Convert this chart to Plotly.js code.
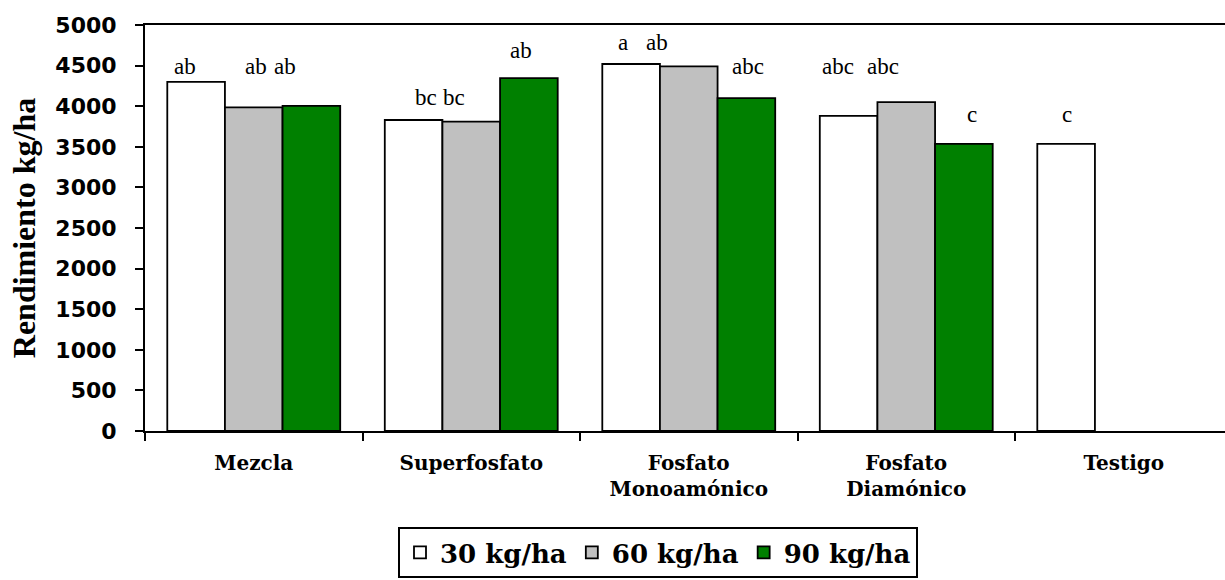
<!DOCTYPE html>
<html>
<head>
<meta charset="utf-8">
<script src="https://cdn.plot.ly/plotly-3.0.1.min.js"></script>
<style>html,body{margin:0;padding:0;background:#fff;}#chart{width:1225px;height:580px;}</style>
</head>
<body>
<div id="chart"></div>
<script>
var categories = ["Mezcla", "Superfosfato", "Fosfato<br>Monoamónico", "Fosfato<br>Diamónico", "Testigo"];
var seriesNames = ["30 kg/ha", "60 kg/ha", "90 kg/ha"];
var dose30 = [4300, 3830, 4520, 3880, 3535];
var dose60 = [3985, 3810, 4490, 4050, null];
var dose90 = [4005, 4345, 4100, 3535, null];
var letters30 = ["ab", "bc", "a", "abc", "c"];
var letters60 = ["ab", "bc", "ab", "abc", null];
var letters90 = ["ab", "ab", "abc", "c", null];
var yTicks = [0, 500, 1000, 1500, 2000, 2500, 3000, 3500, 4000, 4500, 5000];

var colors = ["#FFFFFF", "#C0C0C0", "#008000"];
var values = [dose30, dose60, dose90];
var traces = values.map(function (v, i) {
  return {
    type: "bar",
    name: seriesNames[i],
    x: categories,
    y: v,
    marker: {color: colors[i], line: {color: "#000000", width: 1.8}},
    hoverinfo: "x+y+name"
  };
});

// label placement (layout only): [x offset in category units, y in data units] per series/category
var labelPos = [
  [[-0.318, 4486], [-0.208, 4113], [-0.302, 4782], [-0.316, 4486], [-0.261, 3892]],
  [[0.010, 4486], [-0.079, 4113], [-0.144, 4782], [-0.107, 4486], null],
  [[0.144, 4486], [0.229, 4692], [0.272, 4486], [0.302, 3892], null]
];
var letters = [letters30, letters60, letters90];
var annotations = [];
letters.forEach(function (arr, s) {
  arr.forEach(function (t, c) {
    if (!t) return;
    annotations.push({
      x: c + labelPos[s][c][0], y: labelPos[s][c][1], xref: "x", yref: "y",
      text: t, showarrow: false,
      font: {family: "Liberation Serif, Times New Roman, serif", size: 23, color: "#000"}
    });
  });
});

var layout = {
  width: 1225, height: 580,
  margin: {l: 145, r: 0, t: 25, b: 149},
  paper_bgcolor: "#fff", plot_bgcolor: "#fff",
  barmode: "group", bargap: 0.205, bargroupgap: 0,
  showlegend: true,
  legend: {
    orientation: "h", xref: "paper", x: 0.475, xanchor: "center",
    yref: "container", y: 0.0914, yanchor: "top",
    bordercolor: "#000", borderwidth: 2, bgcolor: "#fff",
    font: {family: "DejaVu Serif, serif", size: 26, color: "#000", weight: "bold"},
    itemwidth: 30, tracegroupgap: 0
  },
  xaxis: {
    type: "category",
    range: [-0.5, 4.4655],
    automargin: false,
    showline: true, linecolor: "#000", linewidth: 2, mirror: true,
    ticks: "outside", tickson: "boundaries", ticklen: 8, tickwidth: 2, tickcolor: "#000",
    ticklabelstandoff: 13,
    tickfont: {family: "DejaVu Serif, serif", size: 20, color: "#000", weight: "bold"},
    showgrid: false, zeroline: false
  },
  yaxis: {
    range: [0, 5000],
    automargin: false,
    tickvals: yTicks,
    showline: true, linecolor: "#000", linewidth: 2,
    ticks: "outside", ticklen: 8, tickwidth: 2, tickcolor: "#000",
    ticklabelstandoff: 14,
    tickfont: {family: "DejaVu Sans, sans-serif", size: 22, color: "#000", weight: "bold"},
    showgrid: false, zeroline: false,
    title: {text: "Rendimiento kg/ha", standoff: 10,
      font: {family: "Liberation Serif, Times New Roman, serif", size: 32, color: "#000", weight: "bold"}}
  },
  annotations: annotations
};

Plotly.newPlot("chart", traces, layout, {displayModeBar: false, staticPlot: true});
</script>
</body>
</html>
